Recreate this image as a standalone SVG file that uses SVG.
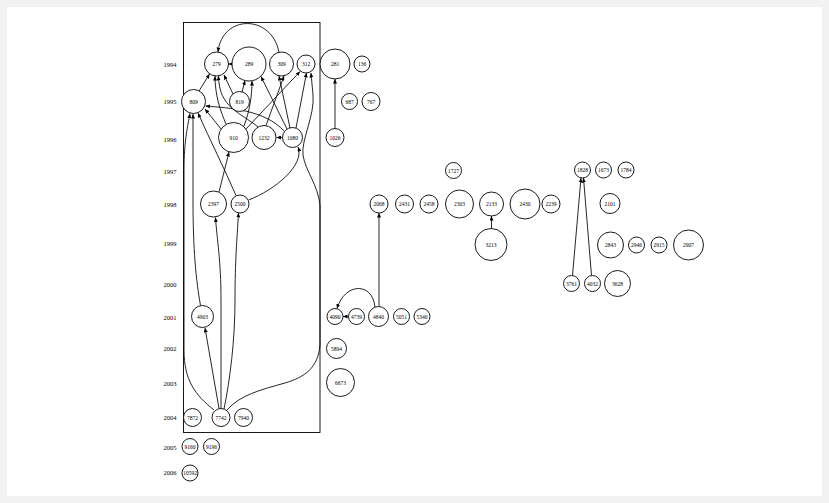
<svg xmlns="http://www.w3.org/2000/svg" width="829" height="503" viewBox="0 0 829 503">
<style>
.n circle{fill:#fff;stroke:#000;stroke-width:0.9}
.n text{font-family:"Liberation Serif",serif;font-size:5.5px;text-anchor:middle;dominant-baseline:central;fill:#000}
.yr{font-family:"Liberation Serif",serif;font-size:6.5px;text-anchor:middle;dominant-baseline:central;fill:#000}
#edges path{fill:none;stroke:#000;stroke-width:0.85;marker-end:url(#ah)}
</style>
<defs>
<marker id="ah" markerUnits="userSpaceOnUse" markerWidth="5" markerHeight="4" refX="4.5" refY="2" orient="auto">
<path d="M0,0 L4.5,2 L0,4 z" fill="#000"/>
</marker>
</defs>
<rect x="0" y="0" width="829" height="503" fill="#f2f2f2"/>
<rect x="7" y="7" width="815" height="489" fill="#fff"/>
<rect id="cluster" x="183.5" y="22.5" width="136.5" height="410" fill="none" stroke="#000" stroke-width="0.9"/>
<g id="years">
<text class="yr" x="170" y="64">1994</text>
<text class="yr" x="170" y="101.5">1995</text>
<text class="yr" x="170" y="139">1996</text>
<text class="yr" x="170" y="171">1997</text>
<text class="yr" x="170" y="204">1998</text>
<text class="yr" x="170" y="243">1999</text>
<text class="yr" x="170" y="284">2000</text>
<text class="yr" x="170" y="317">2001</text>
<text class="yr" x="170" y="348">2002</text>
<text class="yr" x="170" y="383">2003</text>
<text class="yr" x="170" y="417">2004</text>
<text class="yr" x="170" y="447">2005</text>
<text class="yr" x="170" y="472">2006</text>
</g>
<g id="edges">
<path d="M279,52.5 C272,14 222,14 218,52"/>
<path d="M232,64 L228.5,64"/>
<path d="M233,94 L224,75"/>
<path d="M242,92 L245,80.5"/>
<path d="M199,91 L209.5,74"/>
<path d="M226,124 C220,110 215,95 215,76"/>
<path d="M258,127 C240,112 219,108 218.5,76"/>
<path d="M244,126 C250,110 252,95 252,81"/>
<path d="M246,129 L300,71.5"/>
<path d="M287,129 L261,76.5"/>
<path d="M290,128 L279,76"/>
<path d="M266,125.5 L284,76"/>
<path d="M296,128 L306.5,73"/>
<path d="M227,410 C240,395 260,390 285,383 C305,377 318,368 320,345 L320,205 C318,185 305,170 303,155 C301,140 315,115 313,95 L311,73"/>
<path d="M282.5,137.5 L276.5,137.5"/>
<path d="M284,131 C265,110 230,108 205.5,106"/>
<path d="M221,129 L205,109"/>
<path d="M236,195.5 C225,170 210,140 198,113"/>
<path d="M219,192 L229,152"/>
<path d="M248.5,200 C275,190 305,165 298,147"/>
<path d="M214,410 C195,395 184,380 184,350 L184,170 C184,140 188,125 190,113.5"/>
<path d="M200.5,305.5 C196,280 193,250 193,200 L193,114"/>
<path d="M219,408.5 L205,328"/>
<path d="M221,408.5 L221,300 C221,260 217,240 215.5,217.5"/>
<path d="M224,409 C230,380 235,340 235,300 C235,260 237,240 238.5,213"/>
<path d="M375,307.5 C373,282 345,282 337,308.5"/>
<path d="M348.5,316.5 L343,316.5"/>
<path d="M379,306.5 L379,213"/>
<path d="M491.5,228.5 L491.5,216"/>
<path d="M335,128.5 L335,79"/>
<path d="M572.5,275.5 L581,178"/>
<path d="M591.5,275.5 L583.5,178"/>
</g>
<g id="n279" class="n"><circle cx="216.5" cy="64" r="12"/><text x="216.5" y="64">279</text></g>
<g id="n289" class="n"><circle cx="249" cy="64" r="17"/><text x="249" y="64">289</text></g>
<g id="n309" class="n"><circle cx="281.5" cy="64" r="12"/><text x="281.5" y="64">309</text></g>
<g id="n312" class="n"><circle cx="306" cy="64" r="9"/><text x="306" y="64">312</text></g>
<g id="n281" class="n"><circle cx="335" cy="64" r="15"/><text x="335" y="64">281</text></g>
<g id="n136" class="n"><circle cx="362" cy="64" r="8"/><text x="362" y="64">136</text></g>
<g id="n809" class="n"><circle cx="193.5" cy="101.5" r="12"/><text x="193.5" y="101.5">809</text></g>
<g id="n819" class="n"><circle cx="239.5" cy="101.5" r="10"/><text x="239.5" y="101.5">819</text></g>
<g id="n687" class="n"><circle cx="349.5" cy="101.5" r="8"/><text x="349.5" y="101.5">687</text></g>
<g id="n767" class="n"><circle cx="371" cy="101.5" r="9"/><text x="371" y="101.5">767</text></g>
<g id="n910" class="n"><circle cx="233.5" cy="137.5" r="15"/><text x="233.5" y="137.5">910</text></g>
<g id="n1232" class="n"><circle cx="264" cy="137.5" r="12"/><text x="264" y="137.5">1232</text></g>
<g id="n1080" class="n"><circle cx="292.5" cy="137.5" r="10"/><text x="292.5" y="137.5">1080</text></g>
<g id="n1026" class="n"><circle cx="335" cy="137.5" r="9"/><text x="335" y="137.5">1026</text></g>
<g id="n1727" class="n"><circle cx="453.5" cy="170.5" r="8"/><text x="453.5" y="170.5">1727</text></g>
<g id="n1828" class="n"><circle cx="582.5" cy="170" r="8"/><text x="582.5" y="170">1828</text></g>
<g id="n1673" class="n"><circle cx="603.5" cy="170" r="8"/><text x="603.5" y="170">1673</text></g>
<g id="n1784" class="n"><circle cx="626" cy="170" r="8"/><text x="626" y="170">1784</text></g>
<g id="n2397" class="n"><circle cx="213.5" cy="204" r="13"/><text x="213.5" y="204">2397</text></g>
<g id="n2500" class="n"><circle cx="240" cy="204" r="9"/><text x="240" y="204">2500</text></g>
<g id="n2068" class="n"><circle cx="379" cy="204" r="9"/><text x="379" y="204">2068</text></g>
<g id="n2431" class="n"><circle cx="404.5" cy="204" r="9"/><text x="404.5" y="204">2431</text></g>
<g id="n2458" class="n"><circle cx="429" cy="204" r="9"/><text x="429" y="204">2458</text></g>
<g id="n2303" class="n"><circle cx="459.5" cy="204" r="14"/><text x="459.5" y="204">2303</text></g>
<g id="n2133" class="n"><circle cx="491.5" cy="204" r="12"/><text x="491.5" y="204">2133</text></g>
<g id="n2430" class="n"><circle cx="525" cy="204" r="15"/><text x="525" y="204">2430</text></g>
<g id="n2239" class="n"><circle cx="551" cy="204" r="9"/><text x="551" y="204">2239</text></g>
<g id="n2101" class="n"><circle cx="610" cy="203.5" r="10"/><text x="610" y="203.5">2101</text></g>
<g id="n3213" class="n"><circle cx="491" cy="244.5" r="16"/><text x="491" y="244.5">3213</text></g>
<g id="n2843" class="n"><circle cx="610.5" cy="245" r="13"/><text x="610.5" y="245">2843</text></g>
<g id="n2946" class="n"><circle cx="636.5" cy="245" r="8"/><text x="636.5" y="245">2946</text></g>
<g id="n2915" class="n"><circle cx="659" cy="245" r="8"/><text x="659" y="245">2915</text></g>
<g id="n2907" class="n"><circle cx="688.5" cy="245" r="15"/><text x="688.5" y="245">2907</text></g>
<g id="n3761" class="n"><circle cx="571.5" cy="283.5" r="8"/><text x="571.5" y="283.5">3761</text></g>
<g id="n4032" class="n"><circle cx="592.5" cy="283.5" r="8"/><text x="592.5" y="283.5">4032</text></g>
<g id="n3628" class="n"><circle cx="617.5" cy="283.5" r="13"/><text x="617.5" y="283.5">3628</text></g>
<g id="n4903" class="n"><circle cx="202.5" cy="316.5" r="11"/><text x="202.5" y="316.5">4903</text></g>
<g id="n4090" class="n"><circle cx="335" cy="316.5" r="8"/><text x="335" y="316.5">4090</text></g>
<g id="n4739" class="n"><circle cx="356.5" cy="316.5" r="8"/><text x="356.5" y="316.5">4739</text></g>
<g id="n4840" class="n"><circle cx="378.5" cy="316.5" r="10"/><text x="378.5" y="316.5">4840</text></g>
<g id="n5051" class="n"><circle cx="401.5" cy="316.5" r="8"/><text x="401.5" y="316.5">5051</text></g>
<g id="n5340" class="n"><circle cx="422" cy="316.5" r="8"/><text x="422" y="316.5">5340</text></g>
<g id="n5894" class="n"><circle cx="336.5" cy="348.5" r="10"/><text x="336.5" y="348.5">5894</text></g>
<g id="n6673" class="n"><circle cx="340.5" cy="382.5" r="14"/><text x="340.5" y="382.5">6673</text></g>
<g id="n7872" class="n"><circle cx="192.5" cy="417.5" r="9"/><text x="192.5" y="417.5">7872</text></g>
<g id="n7742" class="n"><circle cx="221" cy="417.5" r="9"/><text x="221" y="417.5">7742</text></g>
<g id="n7940" class="n"><circle cx="243.5" cy="417.5" r="9"/><text x="243.5" y="417.5">7940</text></g>
<g id="n9160" class="n"><circle cx="190" cy="446.5" r="8"/><text x="190" y="446.5">9160</text></g>
<g id="n9196" class="n"><circle cx="211.5" cy="446.5" r="8"/><text x="211.5" y="446.5">9196</text></g>
<g id="n10592" class="n"><circle cx="190" cy="473" r="8"/><text x="190" y="473">10592</text></g>
</svg>
